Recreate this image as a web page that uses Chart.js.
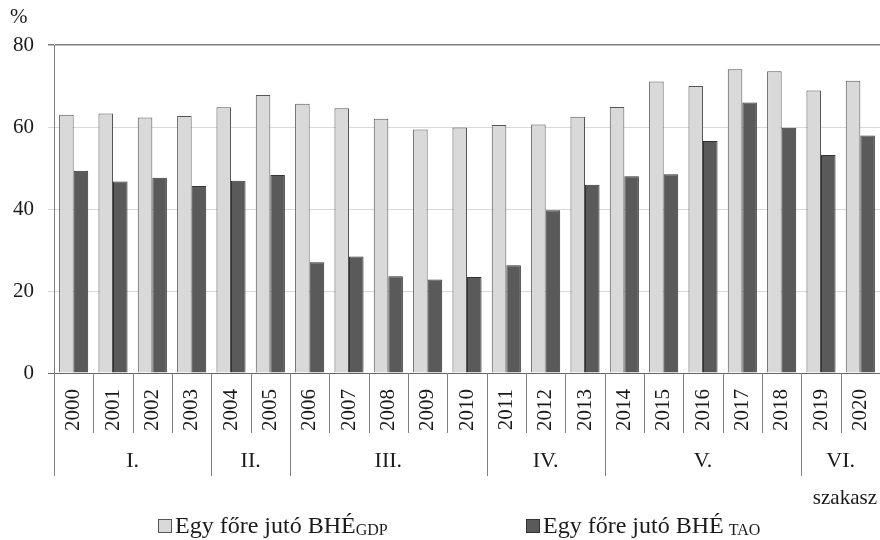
<!DOCTYPE html>
<html>
<head>
<meta charset="utf-8">
<script src="https://cdn.jsdelivr.net/npm/chart.js@4"></script>
<style>
  html, body { margin: 0; padding: 0; background: #fff; }
  #wrap { width: 880px; height: 540px; }
</style>
</head>
<body>
<div id="wrap"><canvas id="chart" width="880" height="540"></canvas></div>
<script>
// data
const years = ['2000','2001','2002','2003','2004','2005','2006','2007','2008','2009','2010',
  '2011','2012','2013','2014','2015','2016','2017','2018','2019','2020'];
const bheGdp = [63.0, 63.3, 62.3, 62.7, 64.8, 67.8, 65.7, 64.6, 62.0, 59.4, 59.9,
  60.5, 60.6, 62.5, 64.9, 71.1, 70.0, 74.1, 73.6, 68.9, 71.3];
const bheTao = [49.3, 46.7, 47.6, 45.6, 46.9, 48.3, 27.0, 28.4, 23.6, 22.8, 23.4,
  26.3, 39.7, 45.9, 48.0, 48.5, 56.6, 66.0, 59.8, 53.2, 57.9];
const phaseNames = ['I.', 'II.', 'III.', 'IV.', 'V.', 'VI.'];
const phaseSizes = [4, 2, 5, 3, 5, 2];
const yTicks = [0, 20, 40, 60, 80];

const FONT = "'Liberation Serif', 'DejaVu Serif', serif";
const LIGHT = '#d9d9d9';
const DARK = '#5a5a5a';

// separators, phase labels, unit labels and the legend with subscripts
const extras = {
  id: 'extras',
  afterDraw(chart) {
    const ctx = chart.ctx;
    const x = chart.scales.x;
    const area = chart.chartArea;
    const base = area.bottom;
    const step = x.getPixelForValue(1) - x.getPixelForValue(0);
    const edge = i => x.getPixelForValue(i) - step / 2;

    const groupEnds = [0];
    phaseSizes.forEach((n, k) => groupEnds.push(groupEnds[k] + n));

    ctx.save();
    ctx.strokeStyle = '#808080';
    ctx.lineWidth = 1;
    for (let i = 0; i < years.length; i++) {
      const long = groupEnds.includes(i);
      const px = Math.round(edge(i)) + 0.5;
      ctx.beginPath();
      ctx.moveTo(px, base);
      ctx.lineTo(px, long ? base + 103 : base + 60);
      ctx.stroke();
    }

    ctx.fillStyle = '#1a1a1a';
    ctx.font = '22px ' + FONT;
    ctx.textAlign = 'center';
    ctx.textBaseline = 'middle';
    phaseNames.forEach((name, k) => {
      const cx = (edge(groupEnds[k]) + Math.min(edge(groupEnds[k + 1]), area.right)) / 2;
      ctx.fillText(name, cx, base + 88);
    });

    ctx.font = '21px ' + FONT;
    ctx.textAlign = 'right';
    ctx.fillText('szakasz', 877, base + 125);
    ctx.textAlign = 'left';
    ctx.fillText('%', 10, 17);

    // legend
    const items = [
      { color: LIGHT, border: '#555', x: 158, sub: 'GDP', gap: 0 },
      { color: DARK, border: '#333', x: 526, sub: 'TAO', gap: 5 }
    ];
    const by = 533;
    items.forEach(it => {
      ctx.fillStyle = it.color;
      ctx.fillRect(it.x, by - 14, 14, 14);
      ctx.strokeStyle = it.border;
      ctx.strokeRect(it.x + 0.5, by - 13.5, 13, 13);
      ctx.fillStyle = '#1a1a1a';
      ctx.font = '24px ' + FONT;
      ctx.textBaseline = 'alphabetic';
      const t = 'Egy főre jutó BHÉ';
      ctx.fillText(t, it.x + 17, by);
      const w = ctx.measureText(t).width;
      ctx.font = '16px ' + FONT;
      ctx.fillText(it.sub, it.x + 17 + w + it.gap, by + 2);
    });
    ctx.restore();
  }
};

new Chart(document.getElementById('chart'), {
  type: 'bar',
  data: {
    labels: years,
    datasets: [
      { label: 'Egy főre jutó BHÉ GDP', data: bheGdp, backgroundColor: LIGHT,
        borderColor: '#555', borderWidth: 1 },
      { label: 'Egy főre jutó BHÉ TAO', data: bheTao, backgroundColor: DARK,
        borderColor: '#333', borderWidth: 1 }
    ]
  },
  options: {
    responsive: false,
    animation: false,
    layout: { padding: { top: 45, left: 0, right: 0, bottom: 0 } },
    datasets: { bar: { categoryPercentage: 0.74, barPercentage: 1.0 } },
    plugins: { legend: { display: false }, tooltip: { enabled: false } },
    scales: {
      x: {
        grid: { display: false },
        border: { display: true, color: '#666', width: 1 },
        ticks: {
          color: '#1a1a1a', font: { family: FONT, size: 21 },
          maxRotation: 90, minRotation: 90, padding: 8, autoSkip: false
        },
        afterFit(s) { s.height = 167; s.paddingLeft = 0; s.paddingRight = 0; }
      },
      y: {
        min: 0, max: 80,
        afterBuildTicks(s) { s.ticks = yTicks.map(v => ({ value: v })); },
        grid: {
          color: c => c.tick.value === 80 ? '#7f7f7f' : (c.tick.value === 0 ? '#666' : LIGHT),
          lineWidth: c => c.tick.value === 80 ? 1.5 : 1,
          tickLength: 6
        },
        border: { display: true, color: '#7f7f7f', width: 1 },
        ticks: { color: '#1a1a1a', font: { family: FONT, size: 21 }, padding: 14 },
        afterFit(s) { s.width = 54; s.paddingTop = 0; s.paddingBottom = 0; }
      }
    }
  },
  plugins: [extras]
});
</script>
</body>
</html>
